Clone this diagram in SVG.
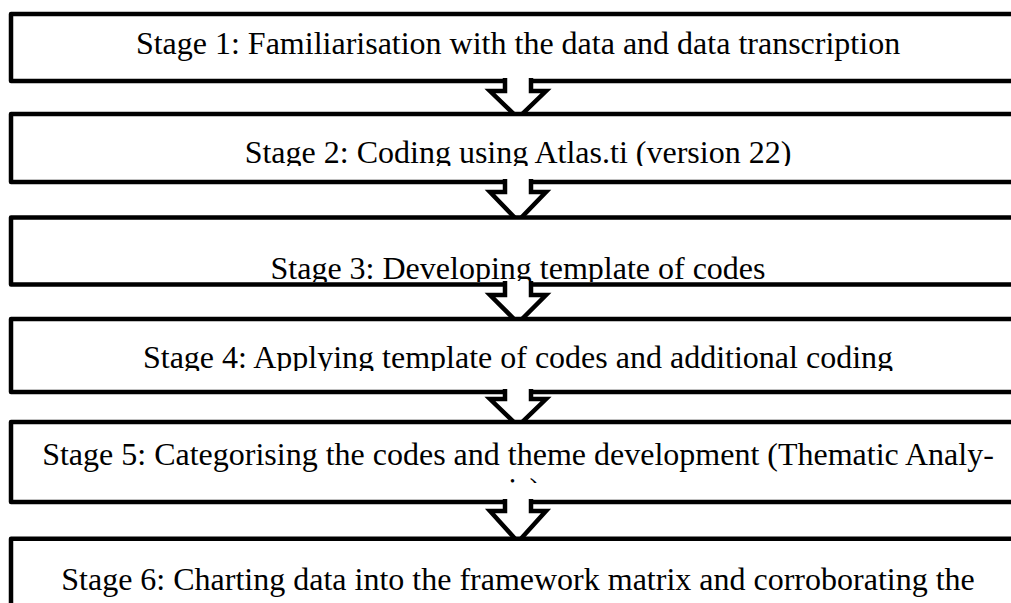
<svg xmlns="http://www.w3.org/2000/svg" width="1011" height="603" viewBox="0 0 1011 603">
<style>
.box{fill:#fff;stroke:#000;stroke-width:4.5;stroke-linejoin:round}
.arr{fill:#fff;stroke:#000;stroke-width:4.5;stroke-linejoin:miter}
.t{font-family:"Liberation Serif","Times New Roman",serif;font-size:32px;fill:#000;text-anchor:middle}
</style>
<defs>
<clipPath id="c2"><rect x="0" y="0" width="1011" height="166"/></clipPath>
<clipPath id="c3"><rect x="0" y="0" width="1011" height="282"/></clipPath>
<clipPath id="c4"><rect x="0" y="0" width="1011" height="371"/></clipPath>
<clipPath id="c5"><rect x="0" y="0" width="1011" height="483"/></clipPath>
</defs>
<rect width="1011" height="603" fill="#fff"/>
<g id="stage1"><rect class="box" x="11" y="14" width="1020" height="67"/><text class="t" x="518" y="54">Stage 1: Familiarisation with the data and data transcription</text></g>
<g id="connectors-1"><path class="arr" d="M505,78 V91 H490 L518,118 L546,91 H531 V78"/></g>
<g id="stage2"><rect class="box" x="11" y="114" width="1020" height="68"/><text class="t" x="518" y="163" clip-path="url(#c2)">Stage 2: Coding using Atlas.ti (version 22)</text></g>
<g id="connectors-2"><path class="arr" d="M505,179 V192 H490 L518,221 L546,192 H531 V179"/></g>
<g id="stage3"><rect class="box" x="11" y="217.5" width="1020" height="67"/><text class="t" x="518" y="279" clip-path="url(#c3)">Stage 3: Developing template of codes</text></g>
<g id="connectors-3"><path class="arr" d="M505,281 V295 H490 L518,323 L546,295 H531 V281"/></g>
<g id="stage4"><rect class="box" x="11" y="319" width="1020" height="73"/><text class="t" x="518" y="368" clip-path="url(#c4)">Stage 4: Applying template of codes and additional coding</text></g>
<g id="connectors-4"><path class="arr" d="M505,389 V399 H490 L518,426 L546,399 H531 V389"/></g>
<g id="stage5"><rect class="box" x="11" y="422" width="1020" height="80"/><text class="t" x="518" y="465" clip-path="url(#c5)">Stage 5: Categorising the codes and theme development (Thematic Analy-<tspan x="518" y="500">sis)</tspan></text></g>
<g id="connectors-5"><path class="arr" d="M505,499 V511 H490 L518,542 L546,511 H531 V499"/></g>
<g id="stage6"><rect class="box" x="11" y="538.7" width="1020" height="100"/><text class="t" x="518" y="590">Stage 6: Charting data into the framework matrix and corroborating the</text></g>
</svg>
